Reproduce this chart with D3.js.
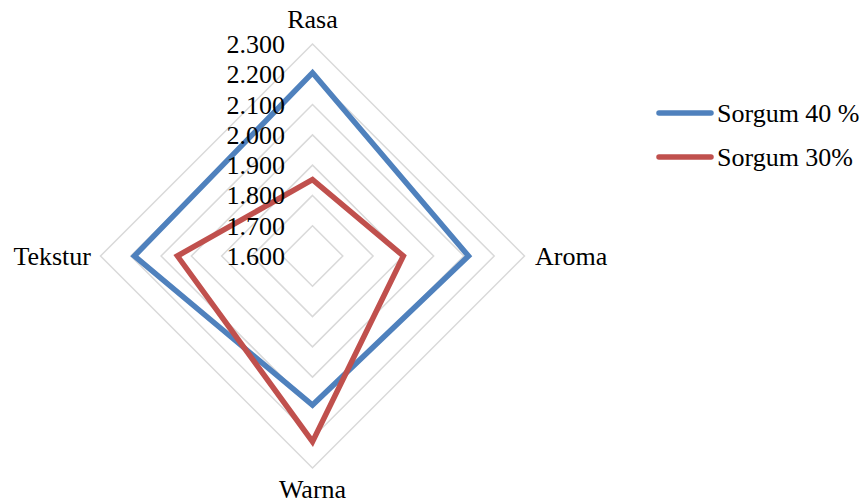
<!DOCTYPE html>
<html><head><meta charset="utf-8">
<script src="https://cdn.jsdelivr.net/npm/d3@7"></script>
<style>body{margin:0;background:#fff}svg{display:block}text{font-family:"Liberation Serif","Times New Roman",serif;fill:#000}</style>
</head><body>
<svg id="c" width="862" height="504"></svg>
<script>
const categories = ["Rasa", "Aroma", "Warna", "Tekstur"];
const seriesNames = ["Sorgum 40 %", "Sorgum 30%"];
const sorgum40 = [2.205, 2.115, 2.092, 2.188];
const sorgum30 = [1.852, 1.900, 2.213, 2.046];
const tickValues = [1.6, 1.7, 1.8, 1.9, 2.0, 2.1, 2.2, 2.3];
const tickLabels = ["1.600","1.700","1.800","1.900","2.000","2.100","2.200","2.300"];
const colors = ["#4f81bd", "#c0504d"];

const svg = d3.select("#c");
const cx = 312.5, cy = 256;
const r = d3.scaleLinear().domain([1.6, 2.3]).range([0, 212]);
const ang = d3.scalePoint().domain(categories).range([0, 2*Math.PI*3/4]);
const pt = (c, v) => { const a = ang(c) - Math.PI/2; return [cx + r(v)*Math.cos(a), cy + r(v)*Math.sin(a)]; };

const g = svg.append("g");
const line = d3.line().curve(d3.curveLinearClosed);
tickValues.slice(1).forEach(t => {
  g.append("path").attr("d", line(categories.map(c => pt(c, t))))
    .attr("fill", "none").attr("stroke", "#d9d9d9").attr("stroke-width", 1.5);
});
[sorgum40, sorgum30].forEach((s, i) => {
  g.append("path").attr("d", line(categories.map((c, j) => pt(c, s[j]))))
    .attr("fill", "none").attr("stroke", colors[i]).attr("stroke-width", 5.5)
    .attr("stroke-linejoin", "miter");
});
tickValues.forEach((t, i) => {
  g.append("text").attr("x", 285).attr("y", cy - r(t) + 9)
    .attr("text-anchor", "end").attr("font-size", 26).text(tickLabels[i]);
});
const lab = [
  {x: cx, y: 28, a: "middle"},
  {x: 535, y: 265, a: "start"},
  {x: cx, y: 498, a: "middle"},
  {x: 91, y: 265, a: "end"}
];
categories.forEach((c, i) => {
  g.append("text").attr("x", lab[i].x).attr("y", lab[i].y).attr("text-anchor", lab[i].a)
    .attr("font-size", 26).text(c);
});
const legY = [113, 157];
seriesNames.forEach((n, i) => {
  svg.append("line").attr("x1", 659).attr("x2", 711).attr("y1", legY[i]).attr("y2", legY[i])
    .attr("stroke", colors[i]).attr("stroke-width", 5.5).attr("stroke-linecap", "round");
  svg.append("text").attr("x", 717).attr("y", legY[i] + 9).attr("font-size", 26).text(n);
});
</script>
</body></html>
